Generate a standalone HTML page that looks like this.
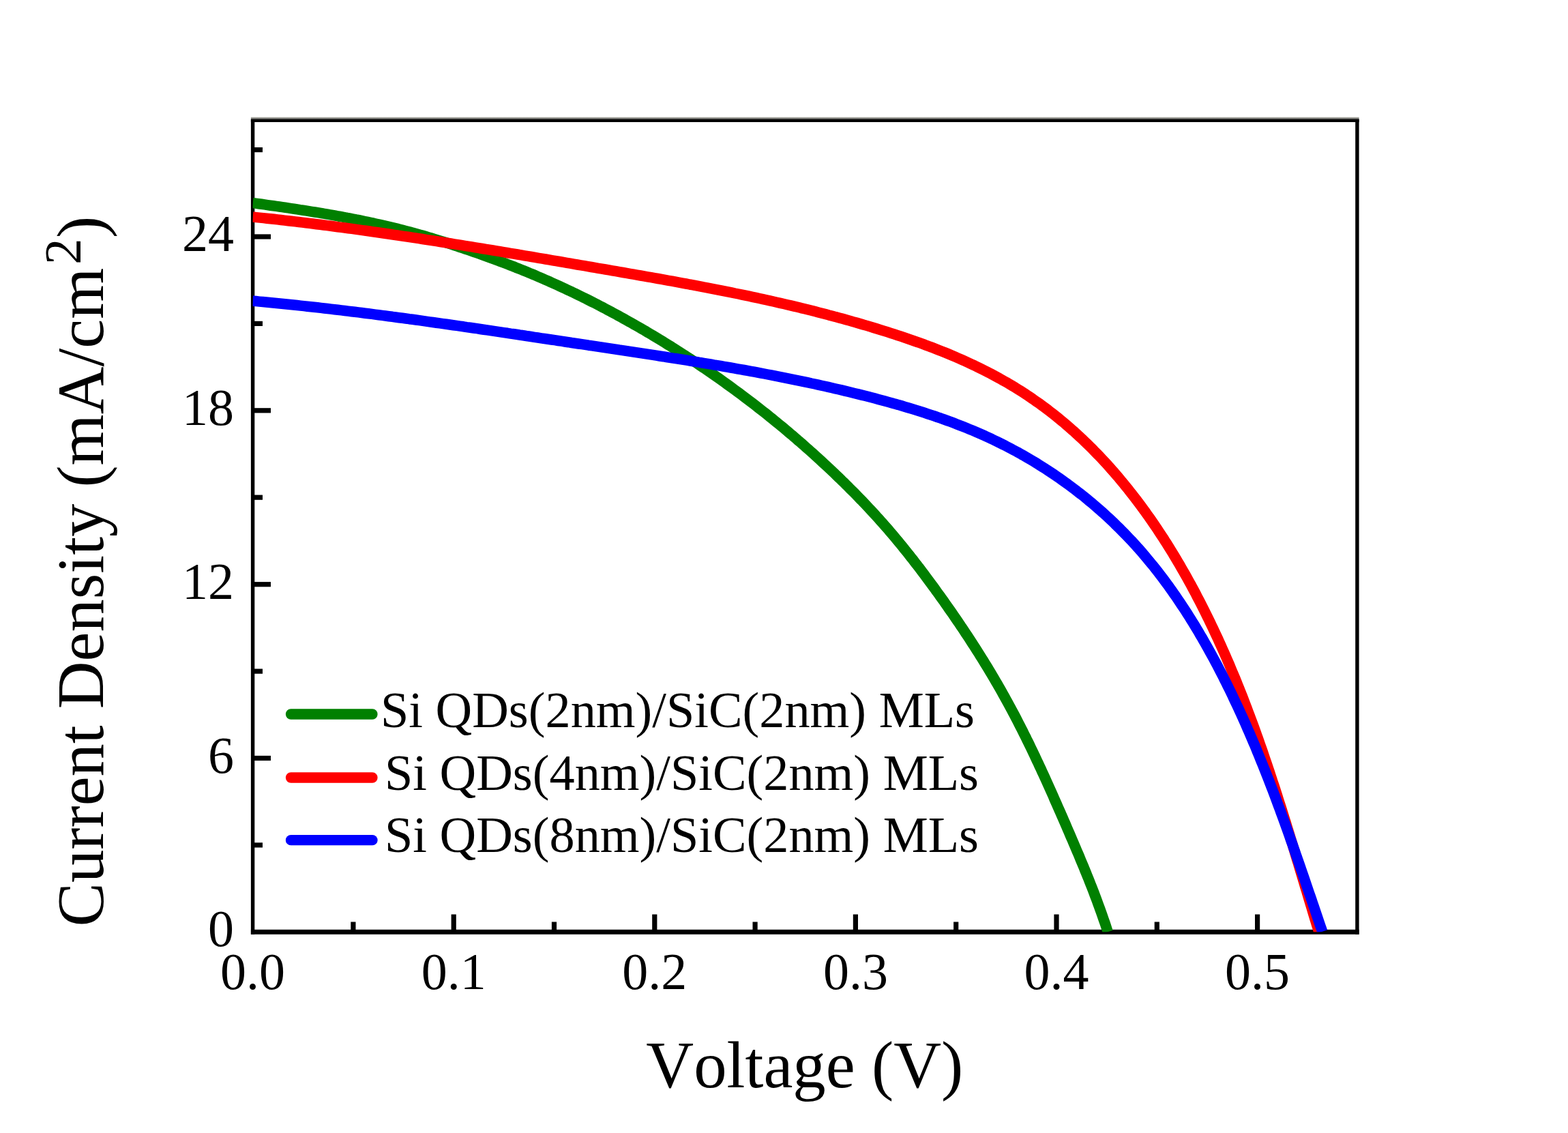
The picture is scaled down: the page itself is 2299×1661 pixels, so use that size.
<!DOCTYPE html>
<html><head><meta charset="utf-8"><title>J-V curves</title>
<style>
html,body{margin:0;padding:0;background:#fff;}
svg{display:block;}
text{font-family:"Liberation Serif",serif;fill:#000;}
</style></head>
<body>
<svg width="2299" height="1661" viewBox="0 0 2299 1661">
<defs>
<clipPath id="plot"><rect x="370.6" y="172" width="1619" height="1194.3"/></clipPath>
<linearGradient id="topg" x1="0" y1="0" x2="0" y2="1"><stop offset="0" stop-color="#d8d8d0"/><stop offset="1" stop-color="#3a3a38"/></linearGradient>
</defs>
<rect width="2299" height="1661" fill="#fff"/>
<g fill="#000">
<rect x="373" y="1107.9" width="24" height="7.2"/>
<rect x="373" y="853.1" width="24" height="7.2"/>
<rect x="373" y="598.2" width="24" height="7.2"/>
<rect x="373" y="343.4" width="24" height="7.2"/>
<rect x="373" y="1235.3" width="12" height="7.2"/>
<rect x="373" y="980.5" width="12" height="7.2"/>
<rect x="373" y="725.6" width="12" height="7.2"/>
<rect x="373" y="470.8" width="12" height="7.2"/>
<rect x="373" y="216.0" width="12" height="7.2"/>
<rect x="661.6" y="1340.5" width="7.2" height="23"/>
<rect x="956.2" y="1340.5" width="7.2" height="23"/>
<rect x="1250.8" y="1340.5" width="7.2" height="23"/>
<rect x="1545.4" y="1340.5" width="7.2" height="23"/>
<rect x="1840.0" y="1340.5" width="7.2" height="23"/>
<rect x="514.3" y="1351.5" width="7.2" height="12"/>
<rect x="808.9" y="1351.5" width="7.2" height="12"/>
<rect x="1103.5" y="1351.5" width="7.2" height="12"/>
<rect x="1398.1" y="1351.5" width="7.2" height="12"/>
<rect x="1692.7" y="1351.5" width="7.2" height="12"/>
</g>
<g fill="#000">
<rect x="367.9" y="174.9" width="5.4" height="1194.9"/>
<rect x="1987.2" y="174.9" width="5.4" height="1194.9"/>
<rect x="367.9" y="171.5" width="1624.7" height="3.4" fill="url(#topg)"/>
<rect x="367.9" y="174.9" width="1624.7" height="4.1"/>
<rect x="367.9" y="1362.8" width="1624.7" height="7"/>
</g>
<g clip-path="url(#plot)" fill="none" stroke-width="15.5" stroke-linejoin="round" stroke-linecap="butt">
<path d="M370.6,297.5 L374.9,298.1 L379.3,298.7 L383.6,299.3 L387.9,299.9 L392.3,300.6 L396.6,301.2 L401.0,301.8 L405.3,302.4 L409.6,303.0 L414.0,303.7 L418.3,304.3 L422.6,304.9 L427.0,305.6 L431.3,306.2 L435.7,306.9 L440.0,307.6 L444.3,308.2 L448.7,308.9 L453.0,309.6 L457.3,310.3 L461.7,311.0 L466.0,311.7 L470.3,312.4 L474.6,313.2 L479.0,313.9 L483.3,314.7 L487.6,315.4 L491.9,316.2 L496.2,317.0 L500.5,317.7 L504.9,318.5 L509.2,319.4 L513.5,320.2 L517.8,321.0 L522.1,321.9 L526.4,322.7 L530.7,323.6 L534.9,324.5 L539.2,325.4 L543.5,326.3 L547.8,327.2 L552.1,328.2 L556.3,329.1 L560.6,330.1 L564.9,331.1 L569.1,332.1 L573.4,333.1 L577.6,334.1 L581.9,335.1 L586.1,336.2 L590.4,337.3 L594.6,338.4 L598.8,339.5 L603.1,340.6 L607.3,341.8 L611.5,342.9 L615.7,344.1 L619.9,345.3 L624.1,346.5 L628.3,347.8 L632.5,349.0 L636.7,350.3 L640.8,351.6 L645.0,352.9 L649.2,354.2 L653.4,355.5 L657.5,356.8 L661.7,358.2 L665.8,359.5 L670.0,360.9 L674.1,362.3 L678.3,363.7 L682.4,365.1 L686.6,366.5 L690.7,367.9 L694.8,369.3 L699.0,370.8 L703.1,372.2 L707.2,373.7 L711.3,375.2 L715.4,376.7 L719.5,378.2 L723.7,379.7 L727.8,381.2 L731.9,382.7 L735.9,384.3 L740.0,385.8 L744.1,387.4 L748.2,389.0 L752.3,390.5 L756.3,392.2 L760.4,393.8 L764.5,395.4 L768.5,397.0 L772.6,398.7 L776.6,400.4 L780.7,402.0 L784.7,403.7 L788.7,405.5 L792.7,407.2 L796.7,408.9 L800.7,410.7 L804.8,412.4 L808.7,414.2 L812.7,416.0 L816.7,417.8 L820.7,419.6 L824.7,421.5 L828.6,423.3 L832.6,425.2 L836.6,427.0 L840.5,428.9 L844.4,430.8 L848.4,432.7 L852.3,434.6 L856.2,436.6 L860.2,438.5 L864.1,440.5 L868.0,442.5 L871.9,444.4 L875.8,446.4 L879.7,448.5 L883.6,450.5 L887.4,452.5 L891.3,454.6 L895.2,456.6 L899.0,458.7 L902.9,460.8 L906.7,462.9 L910.6,465.0 L914.4,467.1 L918.2,469.2 L922.1,471.4 L925.9,473.5 L929.7,475.7 L933.5,477.9 L937.3,480.0 L941.1,482.2 L944.9,484.4 L948.6,486.7 L952.4,488.9 L956.2,491.1 L959.9,493.4 L963.7,495.7 L967.4,497.9 L971.2,500.2 L974.9,502.5 L978.6,504.8 L982.4,507.1 L986.1,509.5 L989.8,511.8 L993.5,514.2 L997.2,516.5 L1000.9,518.9 L1004.6,521.3 L1008.2,523.7 L1011.9,526.1 L1015.6,528.5 L1019.2,530.9 L1022.9,533.3 L1026.5,535.8 L1030.1,538.2 L1033.8,540.7 L1037.4,543.2 L1041.0,545.7 L1044.6,548.2 L1048.2,550.7 L1051.8,553.2 L1055.4,555.7 L1059.0,558.3 L1062.5,560.8 L1066.1,563.4 L1069.6,565.9 L1073.2,568.5 L1076.7,571.1 L1080.3,573.7 L1083.8,576.3 L1087.3,578.9 L1090.8,581.6 L1094.3,584.2 L1097.8,586.9 L1101.3,589.5 L1104.8,592.2 L1108.3,594.9 L1111.7,597.6 L1115.2,600.3 L1118.6,603.0 L1122.1,605.7 L1125.5,608.4 L1128.9,611.2 L1132.3,613.9 L1135.7,616.7 L1139.1,619.5 L1142.5,622.2 L1145.9,625.0 L1149.3,627.8 L1152.6,630.6 L1156.0,633.5 L1159.3,636.3 L1162.7,639.1 L1166.0,642.0 L1169.3,644.9 L1172.7,647.7 L1176.0,650.6 L1179.3,653.5 L1182.5,656.4 L1185.8,659.3 L1189.1,662.2 L1192.4,665.1 L1195.6,668.1 L1198.8,671.0 L1202.1,674.0 L1205.3,677.0 L1208.5,679.9 L1211.7,682.9 L1214.9,685.9 L1218.1,688.9 L1221.3,691.9 L1224.5,694.9 L1227.6,698.0 L1230.8,701.0 L1233.9,704.1 L1237.1,707.1 L1240.2,710.2 L1243.3,713.3 L1246.4,716.4 L1249.5,719.5 L1252.6,722.6 L1255.6,725.7 L1258.7,728.9 L1261.7,732.0 L1264.8,735.1 L1267.8,738.3 L1270.8,741.5 L1273.8,744.7 L1276.8,747.9 L1279.8,751.1 L1282.7,754.3 L1285.7,757.6 L1288.6,760.8 L1291.5,764.1 L1294.4,767.3 L1297.3,770.6 L1300.2,773.9 L1303.1,777.2 L1305.9,780.6 L1308.8,783.9 L1311.6,787.2 L1314.4,790.6 L1317.2,794.0 L1320.0,797.4 L1322.8,800.7 L1325.5,804.2 L1328.3,807.6 L1331.0,811.0 L1333.7,814.4 L1336.4,817.9 L1339.2,821.3 L1341.8,824.8 L1344.5,828.3 L1347.2,831.7 L1349.8,835.2 L1352.5,838.7 L1355.1,842.2 L1357.8,845.8 L1360.4,849.3 L1363.0,852.8 L1365.6,856.3 L1368.2,859.9 L1370.8,863.4 L1373.3,867.0 L1375.9,870.5 L1378.5,874.1 L1381.0,877.7 L1383.6,881.2 L1386.1,884.8 L1388.6,888.4 L1391.1,892.0 L1393.7,895.6 L1396.2,899.2 L1398.7,902.8 L1401.1,906.4 L1403.6,910.0 L1406.1,913.6 L1408.5,917.3 L1411.0,920.9 L1413.4,924.5 L1415.8,928.2 L1418.3,931.9 L1420.7,935.5 L1423.1,939.2 L1425.4,942.9 L1427.8,946.5 L1430.2,950.2 L1432.5,953.9 L1434.9,957.6 L1437.2,961.3 L1439.5,965.0 L1441.8,968.7 L1444.1,972.5 L1446.4,976.2 L1448.7,979.9 L1450.9,983.7 L1453.2,987.4 L1455.4,991.2 L1457.7,995.0 L1459.9,998.8 L1462.1,1002.5 L1464.3,1006.3 L1466.4,1010.1 L1468.6,1013.9 L1470.7,1017.7 L1472.9,1021.6 L1475.0,1025.4 L1477.1,1029.2 L1479.2,1033.1 L1481.3,1036.9 L1483.4,1040.8 L1485.4,1044.6 L1487.5,1048.5 L1489.5,1052.4 L1491.5,1056.3 L1493.5,1060.2 L1495.5,1064.1 L1497.5,1068.0 L1499.5,1071.9 L1501.4,1075.8 L1503.4,1079.7 L1505.3,1083.7 L1507.3,1087.6 L1509.2,1091.5 L1511.1,1095.5 L1513.0,1099.4 L1514.9,1103.4 L1516.8,1107.3 L1518.6,1111.3 L1520.5,1115.3 L1522.4,1119.2 L1524.2,1123.2 L1526.1,1127.2 L1527.9,1131.2 L1529.7,1135.1 L1531.6,1139.1 L1533.4,1143.1 L1535.2,1147.1 L1537.0,1151.1 L1538.8,1155.1 L1540.6,1159.1 L1542.4,1163.1 L1544.2,1167.1 L1545.9,1171.2 L1547.7,1175.2 L1549.5,1179.2 L1551.2,1183.2 L1553.0,1187.2 L1554.8,1191.2 L1556.5,1195.3 L1558.3,1199.3 L1560.0,1203.3 L1561.8,1207.3 L1563.5,1211.3 L1565.2,1215.4 L1567.0,1219.4 L1568.7,1223.4 L1570.4,1227.4 L1572.2,1231.5 L1573.9,1235.5 L1575.6,1239.5 L1577.3,1243.5 L1579.0,1247.6 L1580.8,1251.6 L1582.5,1255.6 L1584.1,1259.7 L1585.8,1263.7 L1587.5,1267.8 L1589.2,1271.8 L1590.8,1275.9 L1592.5,1279.9 L1594.1,1284.0 L1595.8,1288.0 L1597.4,1292.1 L1599.0,1296.2 L1600.6,1300.2 L1602.2,1304.3 L1603.8,1308.4 L1605.3,1312.5 L1606.9,1316.6 L1608.4,1320.7 L1609.9,1324.8 L1611.4,1328.9 L1612.9,1333.0 L1614.4,1337.1 L1615.9,1341.3 L1617.3,1345.4 L1618.7,1349.5 L1620.2,1353.7 L1621.6,1357.9 L1622.9,1362.0 L1624.3,1366.2" stroke="#008000"/>
<path d="M370.6,318.0 L375.8,318.6 L381.0,319.1 L386.2,319.6 L391.4,320.2 L396.6,320.8 L401.8,321.3 L407.0,321.9 L412.2,322.5 L417.4,323.1 L422.6,323.7 L427.8,324.3 L433.0,324.9 L438.2,325.5 L443.4,326.1 L448.6,326.7 L453.8,327.4 L459.0,328.0 L464.2,328.7 L469.3,329.3 L474.5,330.0 L479.7,330.6 L484.9,331.3 L490.1,332.0 L495.3,332.7 L500.5,333.4 L505.6,334.0 L510.8,334.7 L516.0,335.4 L521.2,336.2 L526.4,336.9 L531.6,337.6 L536.7,338.3 L541.9,339.0 L547.1,339.8 L552.3,340.5 L557.4,341.2 L562.6,342.0 L567.8,342.7 L573.0,343.5 L578.1,344.3 L583.3,345.0 L588.5,345.8 L593.7,346.6 L598.8,347.3 L604.0,348.1 L609.2,348.9 L614.3,349.7 L619.5,350.5 L624.7,351.3 L629.9,352.1 L635.0,352.9 L640.2,353.7 L645.4,354.5 L650.5,355.3 L655.7,356.1 L660.9,357.0 L666.0,357.8 L671.2,358.6 L676.3,359.4 L681.5,360.3 L686.7,361.1 L691.8,361.9 L697.0,362.8 L702.2,363.6 L707.3,364.5 L712.5,365.3 L717.6,366.2 L722.8,367.0 L728.0,367.9 L733.1,368.7 L738.3,369.6 L743.4,370.5 L748.6,371.3 L753.7,372.2 L758.9,373.0 L764.1,373.9 L769.2,374.8 L774.4,375.7 L779.5,376.5 L784.7,377.4 L789.8,378.3 L795.0,379.1 L800.1,380.0 L805.3,380.9 L810.5,381.8 L815.6,382.7 L820.8,383.5 L825.9,384.4 L831.1,385.3 L836.2,386.2 L841.4,387.1 L846.5,388.0 L851.7,388.8 L856.8,389.7 L862.0,390.6 L867.1,391.5 L872.3,392.4 L877.4,393.3 L882.6,394.2 L887.7,395.0 L892.9,395.9 L898.0,396.8 L903.2,397.7 L908.3,398.6 L913.5,399.5 L918.6,400.4 L923.8,401.3 L928.9,402.2 L934.0,403.1 L939.2,404.0 L944.3,404.9 L949.5,405.8 L954.6,406.7 L959.8,407.6 L964.9,408.5 L970.0,409.4 L975.2,410.4 L980.3,411.3 L985.5,412.2 L990.6,413.2 L995.7,414.1 L1000.9,415.1 L1006.0,416.0 L1011.1,417.0 L1016.3,417.9 L1021.4,418.9 L1026.5,419.9 L1031.6,420.9 L1036.8,421.8 L1041.9,422.8 L1047.0,423.8 L1052.1,424.8 L1057.3,425.9 L1062.4,426.9 L1067.5,427.9 L1072.6,428.9 L1077.7,430.0 L1082.9,431.0 L1088.0,432.1 L1093.1,433.2 L1098.2,434.2 L1103.3,435.3 L1108.4,436.4 L1113.5,437.5 L1118.6,438.6 L1123.7,439.8 L1128.8,440.9 L1133.9,442.0 L1139.0,443.2 L1144.1,444.4 L1149.2,445.5 L1154.3,446.7 L1159.4,447.9 L1164.5,449.1 L1169.6,450.3 L1174.6,451.6 L1179.7,452.8 L1184.8,454.1 L1189.9,455.3 L1194.9,456.6 L1200.0,457.9 L1205.1,459.2 L1210.2,460.5 L1215.2,461.9 L1220.3,463.2 L1225.3,464.6 L1230.4,465.9 L1235.5,467.3 L1240.5,468.7 L1245.6,470.1 L1250.6,471.6 L1255.7,473.0 L1260.7,474.5 L1265.7,476.0 L1270.8,477.4 L1275.8,478.9 L1280.9,480.5 L1285.9,482.0 L1290.9,483.6 L1295.9,485.1 L1301.0,486.7 L1306.0,488.3 L1311.0,489.9 L1316.0,491.6 L1321.0,493.2 L1326.0,494.9 L1331.0,496.6 L1336.0,498.3 L1341.0,500.1 L1346.0,501.8 L1350.9,503.6 L1355.9,505.4 L1360.8,507.3 L1365.8,509.1 L1370.7,511.0 L1375.6,512.9 L1380.5,514.9 L1385.4,516.8 L1390.3,518.8 L1395.2,520.9 L1400.0,522.9 L1404.8,525.0 L1409.7,527.1 L1414.5,529.3 L1419.3,531.5 L1424.0,533.7 L1428.8,535.9 L1433.5,538.2 L1438.2,540.5 L1442.9,542.9 L1447.6,545.2 L1452.3,547.6 L1456.9,550.1 L1461.5,552.6 L1466.1,555.1 L1470.6,557.7 L1475.2,560.2 L1479.7,562.9 L1484.1,565.5 L1488.6,568.2 L1493.0,571.0 L1497.4,573.7 L1501.8,576.5 L1506.1,579.4 L1510.4,582.3 L1514.7,585.2 L1518.9,588.2 L1523.2,591.1 L1527.4,594.2 L1531.5,597.2 L1535.6,600.3 L1539.7,603.5 L1543.8,606.7 L1547.9,609.9 L1551.9,613.1 L1555.9,616.4 L1559.8,619.7 L1563.7,623.0 L1567.6,626.4 L1571.5,629.8 L1575.4,633.2 L1579.2,636.7 L1583.0,640.2 L1586.7,643.7 L1590.5,647.3 L1594.2,650.9 L1597.9,654.5 L1601.5,658.1 L1605.1,661.8 L1608.7,665.5 L1612.3,669.2 L1615.9,673.0 L1619.4,676.8 L1622.9,680.6 L1626.4,684.4 L1629.8,688.3 L1633.2,692.2 L1636.6,696.1 L1640.0,700.1 L1643.3,704.1 L1646.6,708.0 L1649.9,712.1 L1653.2,716.1 L1656.4,720.2 L1659.7,724.3 L1662.9,728.4 L1666.0,732.5 L1669.2,736.7 L1672.3,740.9 L1675.4,745.1 L1678.5,749.3 L1681.5,753.6 L1684.5,757.8 L1687.6,762.1 L1690.5,766.4 L1693.5,770.7 L1696.4,775.1 L1699.3,779.5 L1702.2,783.8 L1705.1,788.2 L1707.9,792.7 L1710.8,797.1 L1713.6,801.6 L1716.3,806.0 L1719.1,810.5 L1721.8,815.0 L1724.5,819.5 L1727.2,824.1 L1729.9,828.6 L1732.5,833.2 L1735.2,837.8 L1737.8,842.4 L1740.4,847.0 L1742.9,851.6 L1745.5,856.2 L1748.0,860.9 L1750.5,865.5 L1753.0,870.2 L1755.4,874.9 L1757.9,879.6 L1760.3,884.3 L1762.7,889.0 L1765.1,893.7 L1767.4,898.4 L1769.8,903.2 L1772.1,907.9 L1774.4,912.7 L1776.7,917.5 L1779.0,922.2 L1781.2,927.0 L1783.5,931.8 L1785.7,936.6 L1787.9,941.4 L1790.1,946.2 L1792.2,951.0 L1794.4,955.9 L1796.5,960.7 L1798.6,965.5 L1800.7,970.4 L1802.8,975.2 L1804.8,980.1 L1806.8,984.9 L1808.9,989.8 L1810.9,994.6 L1812.9,999.5 L1814.8,1004.3 L1816.8,1009.2 L1818.7,1014.1 L1820.7,1018.9 L1822.6,1023.8 L1824.5,1028.7 L1826.3,1033.6 L1828.2,1038.4 L1830.0,1043.3 L1831.9,1048.2 L1833.7,1053.1 L1835.5,1058.0 L1837.3,1062.8 L1839.1,1067.7 L1840.9,1072.6 L1842.6,1077.5 L1844.4,1082.4 L1846.1,1087.3 L1847.8,1092.2 L1849.6,1097.1 L1851.3,1102.0 L1852.9,1106.9 L1854.6,1111.9 L1856.3,1116.8 L1858.0,1121.7 L1859.6,1126.6 L1861.3,1131.5 L1862.9,1136.5 L1864.5,1141.4 L1866.1,1146.3 L1867.8,1151.3 L1869.4,1156.2 L1871.0,1161.1 L1872.6,1166.1 L1874.1,1171.0 L1875.7,1176.0 L1877.3,1180.9 L1878.9,1185.9 L1880.4,1190.8 L1882.0,1195.8 L1883.5,1200.7 L1885.1,1205.7 L1886.6,1210.7 L1888.1,1215.6 L1889.7,1220.6 L1891.2,1225.6 L1892.7,1230.6 L1894.3,1235.6 L1895.8,1240.6 L1897.3,1245.5 L1898.8,1250.5 L1900.3,1255.5 L1901.8,1260.5 L1903.4,1265.5 L1904.9,1270.5 L1906.4,1275.6 L1907.9,1280.6 L1909.4,1285.6 L1910.9,1290.6 L1912.4,1295.6 L1913.9,1300.7 L1915.5,1305.7 L1917.0,1310.7 L1918.5,1315.8 L1920.0,1320.8 L1921.5,1325.8 L1923.1,1330.9 L1924.6,1335.9 L1926.1,1341.0 L1927.6,1346.1 L1929.2,1351.1 L1930.7,1356.2 L1932.3,1361.2 L1933.8,1366.3" stroke="#ff0000"/>
<path d="M370.4,441.2 L375.5,441.6 L380.5,442.1 L385.5,442.5 L390.5,443.0 L395.5,443.5 L400.5,444.0 L405.5,444.5 L410.6,445.0 L415.6,445.5 L420.6,446.0 L425.6,446.5 L430.6,447.0 L435.6,447.5 L440.6,448.1 L445.6,448.6 L450.6,449.2 L455.6,449.7 L460.6,450.3 L465.6,450.8 L470.5,451.4 L475.5,452.0 L480.5,452.5 L485.5,453.1 L490.5,453.7 L495.5,454.3 L500.5,454.9 L505.5,455.5 L510.5,456.1 L515.4,456.7 L520.4,457.3 L525.4,457.9 L530.4,458.5 L535.4,459.2 L540.3,459.8 L545.3,460.4 L550.3,461.1 L555.3,461.7 L560.3,462.4 L565.2,463.0 L570.2,463.7 L575.2,464.3 L580.1,465.0 L585.1,465.7 L590.1,466.3 L595.1,467.0 L600.0,467.7 L605.0,468.3 L610.0,469.0 L614.9,469.7 L619.9,470.4 L624.9,471.1 L629.8,471.8 L634.8,472.5 L639.8,473.2 L644.7,473.9 L649.7,474.6 L654.7,475.3 L659.6,476.0 L664.6,476.7 L669.6,477.4 L674.5,478.1 L679.5,478.8 L684.4,479.6 L689.4,480.3 L694.4,481.0 L699.3,481.7 L704.3,482.5 L709.3,483.2 L714.2,483.9 L719.2,484.7 L724.1,485.4 L729.1,486.1 L734.1,486.9 L739.0,487.6 L744.0,488.3 L748.9,489.1 L753.9,489.8 L758.9,490.5 L763.8,491.3 L768.8,492.0 L773.7,492.8 L778.7,493.5 L783.7,494.3 L788.6,495.0 L793.6,495.8 L798.5,496.5 L803.5,497.2 L808.5,498.0 L813.4,498.7 L818.4,499.5 L823.3,500.2 L828.3,501.0 L833.3,501.7 L838.2,502.5 L843.2,503.2 L848.2,504.0 L853.1,504.7 L858.1,505.4 L863.0,506.2 L868.0,506.9 L873.0,507.7 L877.9,508.4 L882.9,509.2 L887.9,509.9 L892.8,510.6 L897.8,511.4 L902.8,512.1 L907.7,512.9 L912.7,513.6 L917.7,514.4 L922.6,515.1 L927.6,515.9 L932.5,516.6 L937.5,517.4 L942.5,518.1 L947.4,518.9 L952.4,519.7 L957.4,520.4 L962.3,521.2 L967.3,522.0 L972.3,522.7 L977.2,523.5 L982.2,524.3 L987.1,525.1 L992.1,525.8 L997.1,526.6 L1002.0,527.4 L1007.0,528.2 L1012.0,529.0 L1016.9,529.8 L1021.9,530.6 L1026.8,531.5 L1031.8,532.3 L1036.7,533.1 L1041.7,533.9 L1046.6,534.8 L1051.6,535.6 L1056.6,536.4 L1061.5,537.3 L1066.5,538.2 L1071.4,539.0 L1076.4,539.9 L1081.3,540.8 L1086.2,541.6 L1091.2,542.5 L1096.1,543.4 L1101.1,544.3 L1106.0,545.2 L1111.0,546.2 L1115.9,547.1 L1120.8,548.0 L1125.8,549.0 L1130.7,549.9 L1135.7,550.9 L1140.6,551.8 L1145.5,552.8 L1150.5,553.8 L1155.4,554.8 L1160.3,555.8 L1165.2,556.8 L1170.2,557.8 L1175.1,558.8 L1180.0,559.9 L1184.9,560.9 L1189.8,562.0 L1194.8,563.0 L1199.7,564.1 L1204.6,565.2 L1209.5,566.3 L1214.4,567.4 L1219.3,568.5 L1224.2,569.7 L1229.1,570.8 L1234.0,571.9 L1238.9,573.1 L1243.8,574.3 L1248.7,575.5 L1253.6,576.7 L1258.5,577.9 L1263.4,579.1 L1268.3,580.3 L1273.2,581.6 L1278.0,582.8 L1282.9,584.1 L1287.8,585.4 L1292.7,586.7 L1297.5,588.0 L1302.4,589.4 L1307.3,590.7 L1312.1,592.1 L1317.0,593.4 L1321.8,594.8 L1326.7,596.3 L1331.5,597.7 L1336.3,599.2 L1341.1,600.6 L1345.9,602.1 L1350.8,603.7 L1355.5,605.2 L1360.3,606.8 L1365.1,608.3 L1369.9,609.9 L1374.6,611.6 L1379.4,613.2 L1384.1,614.9 L1388.8,616.6 L1393.6,618.3 L1398.3,620.1 L1403.0,621.9 L1407.6,623.7 L1412.3,625.5 L1417.0,627.4 L1421.6,629.3 L1426.2,631.2 L1430.8,633.2 L1435.4,635.2 L1440.0,637.2 L1444.6,639.2 L1449.1,641.3 L1453.7,643.4 L1458.2,645.6 L1462.7,647.8 L1467.2,650.0 L1471.7,652.2 L1476.1,654.5 L1480.6,656.8 L1485.0,659.2 L1489.4,661.5 L1493.8,663.9 L1498.1,666.4 L1502.5,668.8 L1506.8,671.4 L1511.1,673.9 L1515.4,676.4 L1519.7,679.0 L1523.9,681.7 L1528.1,684.3 L1532.4,687.0 L1536.5,689.7 L1540.7,692.5 L1544.9,695.3 L1549.0,698.1 L1553.1,700.9 L1557.2,703.8 L1561.2,706.7 L1565.3,709.6 L1569.3,712.6 L1573.3,715.6 L1577.3,718.6 L1581.2,721.7 L1585.2,724.7 L1589.1,727.8 L1593.0,731.0 L1596.8,734.2 L1600.6,737.3 L1604.5,740.6 L1608.2,743.8 L1612.0,747.1 L1615.7,750.4 L1619.5,753.8 L1623.1,757.1 L1626.8,760.5 L1630.4,763.9 L1634.1,767.4 L1637.6,770.9 L1641.2,774.4 L1644.7,777.9 L1648.2,781.5 L1651.7,785.1 L1655.1,788.7 L1658.6,792.3 L1662.0,796.0 L1665.3,799.7 L1668.7,803.4 L1672.0,807.2 L1675.3,810.9 L1678.5,814.7 L1681.7,818.6 L1684.9,822.4 L1688.1,826.3 L1691.3,830.2 L1694.4,834.1 L1697.5,838.1 L1700.5,842.0 L1703.6,846.0 L1706.6,850.0 L1709.6,854.1 L1712.6,858.1 L1715.5,862.2 L1718.4,866.3 L1721.3,870.4 L1724.2,874.5 L1727.0,878.7 L1729.8,882.9 L1732.6,887.1 L1735.4,891.3 L1738.2,895.5 L1740.9,899.7 L1743.6,904.0 L1746.3,908.3 L1748.9,912.5 L1751.6,916.9 L1754.2,921.2 L1756.8,925.5 L1759.3,929.9 L1761.9,934.2 L1764.4,938.6 L1766.9,943.0 L1769.4,947.4 L1771.9,951.8 L1774.3,956.2 L1776.8,960.7 L1779.2,965.1 L1781.6,969.6 L1784.0,974.0 L1786.3,978.5 L1788.6,983.0 L1791.0,987.5 L1793.3,992.0 L1795.5,996.5 L1797.8,1001.0 L1800.0,1005.5 L1802.3,1010.1 L1804.5,1014.6 L1806.7,1019.1 L1808.8,1023.7 L1811.0,1028.3 L1813.1,1032.8 L1815.3,1037.4 L1817.4,1042.0 L1819.5,1046.6 L1821.6,1051.1 L1823.6,1055.7 L1825.7,1060.3 L1827.7,1064.9 L1829.7,1069.6 L1831.8,1074.2 L1833.7,1078.8 L1835.7,1083.4 L1837.7,1088.1 L1839.7,1092.7 L1841.6,1097.3 L1843.5,1102.0 L1845.4,1106.6 L1847.3,1111.3 L1849.2,1116.0 L1851.1,1120.6 L1853.0,1125.3 L1854.9,1130.0 L1856.7,1134.6 L1858.5,1139.3 L1860.4,1144.0 L1862.2,1148.7 L1864.0,1153.4 L1865.8,1158.1 L1867.6,1162.8 L1869.4,1167.5 L1871.1,1172.2 L1872.9,1176.9 L1874.6,1181.6 L1876.4,1186.3 L1878.1,1191.0 L1879.8,1195.7 L1881.6,1200.4 L1883.3,1205.1 L1885.0,1209.9 L1886.7,1214.6 L1888.4,1219.3 L1890.1,1224.0 L1891.7,1228.8 L1893.4,1233.5 L1895.1,1238.2 L1896.7,1242.9 L1898.4,1247.7 L1900.0,1252.4 L1901.7,1257.1 L1903.3,1261.9 L1905.0,1266.6 L1906.6,1271.3 L1908.2,1276.1 L1909.9,1280.8 L1911.5,1285.5 L1913.1,1290.3 L1914.7,1295.0 L1916.3,1299.7 L1917.9,1304.5 L1919.5,1309.2 L1921.2,1313.9 L1922.8,1318.6 L1924.4,1323.4 L1926.0,1328.1 L1927.6,1332.8 L1929.2,1337.5 L1930.8,1342.3 L1932.4,1347.0 L1934.0,1351.7 L1935.6,1356.4 L1937.2,1361.1 L1938.8,1365.8" stroke="#0000ff"/>
</g>
<g font-size="76">
<text x="343" y="1387.3" text-anchor="end">0</text>
<text x="343" y="1132.5" text-anchor="end">6</text>
<text x="343" y="877.7" text-anchor="end">12</text>
<text x="343" y="622.8" text-anchor="end">18</text>
<text x="343" y="368.0" text-anchor="end">24</text>
<text x="370.6" y="1450" text-anchor="middle">0.0</text>
<text x="665.2" y="1450" text-anchor="middle">0.1</text>
<text x="959.8" y="1450" text-anchor="middle">0.2</text>
<text x="1254.4" y="1450" text-anchor="middle">0.3</text>
<text x="1549.0" y="1450" text-anchor="middle">0.4</text>
<text x="1843.6" y="1450" text-anchor="middle">0.5</text>
</g>
<text x="1179.8" y="1594" font-size="96.8" text-anchor="middle" style="font-kerning:none">Voltage (V)</text>
<text transform="translate(150.5,1358.4) rotate(-90)" font-size="96.6">Current Density (mA/cm<tspan font-size="77" dx="4.6" dy="-32.4">2</tspan><tspan dx="0.6" dy="32.4">)</tspan></text>
<g stroke-width="15.3" stroke-linecap="round">
<line x1="426.5" y1="1047" x2="546" y2="1047" stroke="#008000"/>
<line x1="426.5" y1="1140" x2="546" y2="1140" stroke="#ff0000"/>
<line x1="426.5" y1="1231.7" x2="546" y2="1231.7" stroke="#0000ff"/>
</g>
<g font-size="74.3">
<text x="558" y="1066">Si QDs(2nm)/SiC(2nm) MLs</text>
<text x="564" y="1157.5">Si QDs(4nm)/SiC(2nm) MLs</text>
<text x="564" y="1249">Si QDs(8nm)/SiC(2nm) MLs</text>
</g>
</svg>
</body></html>
